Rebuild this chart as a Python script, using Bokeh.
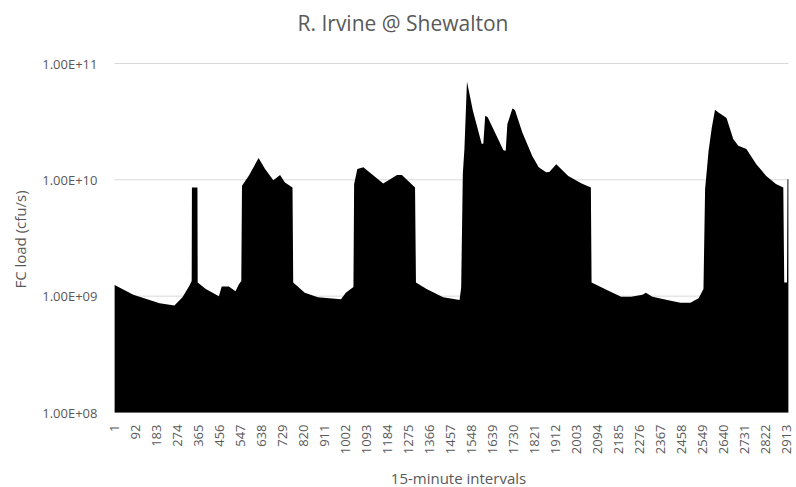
import math
from bokeh.plotting import figure
from bokeh.models import Range1d, Label, LabelSet, ColumnDataSource
from bokeh.core.properties import value
from bokeh.embed import file_html
from bokeh.resources import INLINE

# 15-minute interval index and FC load (cfu/s)
interval = [1, 82, 196, 260, 295, 325, 335, 336, 360, 361, 396, 453, 465, 496,
            525, 539, 550, 553, 582, 625, 653, 689, 718, 739, 772, 775, 825, 882,
            982, 1003, 1036, 1039, 1053, 1079, 1165, 1225, 1246, 1303, 1307, 1353,
            1425, 1496, 1503, 1510, 1517, 1528, 1554, 1592, 1599, 1607, 1618, 1653,
            1686, 1696, 1703, 1725, 1736, 1768, 1811, 1839, 1871, 1885, 1915, 1967,
            2025, 2065, 2068, 2139, 2196, 2239, 2289, 2303, 2332, 2396, 2453, 2496,
            2532, 2553, 2560, 2575, 2589, 2603, 2618, 2639, 2653, 2682, 2704, 2739,
            2782, 2825, 2867, 2899, 2903, 2915, 2917, 2921]
load = [1.25e9, 1.03e9, 8.7e8, 8.3e8, 9.8e8, 1.23e9, 1.35e9, 8.6e9, 8.6e9, 1.31e9,
        1.15e9, 1.0e9, 1.21e9, 1.21e9, 1.1e9, 1.26e9, 1.35e9, 8.9e9, 1.08e10,
        1.54e10, 1.24e10, 9.9e9, 1.1e10, 9.5e9, 8.6e9, 1.31e9, 1.07e9, 9.8e8,
        9.4e8, 1.07e9, 1.2e9, 9.2e9, 1.24e10, 1.28e10, 9.3e9, 1.1e10, 1.1e10,
        8.6e9, 1.31e9, 1.15e9, 9.8e8, 9.25e8, 1.19e9, 1.12e10, 1.84e10, 7.0e10,
        3.9e10, 2.03e10, 2.05e10, 3.55e10, 3.45e10, 2.47e10, 1.8e10, 1.78e10,
        3.0e10, 4.1e10, 3.98e10, 2.55e10, 1.6e10, 1.28e10, 1.16e10, 1.17e10,
        1.36e10, 1.08e10, 9.3e9, 8.6e9, 1.31e9, 1.12e9, 9.9e8, 9.9e8, 1.03e9,
        1.07e9, 9.9e8, 9.25e8, 8.8e8, 8.8e8, 9.6e8, 1.15e9, 8.3e9, 1.77e10,
        2.8e10, 4.0e10, 3.8e10, 3.55e10, 3.4e10, 2.24e10, 1.96e10, 1.84e10,
        1.36e10, 1.08e10, 9.2e9, 8.6e9, 1.31e9, 1.31e9, 1.01e10, 1.01e10]
baseline = 1e8

x_ticks = [1, 92, 183, 274, 365, 456, 547, 638, 729, 820, 911, 1002, 1093, 1184,
           1275, 1366, 1457, 1548, 1639, 1730, 1821, 1912, 2003, 2094, 2185, 2276,
           2367, 2458, 2549, 2640, 2731, 2822, 2913]
x_tick_labels = [str(t) for t in x_ticks]
y_ticks = [1e8, 1e9, 1e10, 1e11]
y_tick_labels = ["1.00E+08", "1.00E+09", "1.00E+10", "1.00E+11"]

TITLE = "R. Irvine @ Shewalton"
X_TITLE = "15-minute intervals"
Y_TITLE = "FC load (cfu/s)"

FONT = "Open Sans"
GREY = "#595959"
GRID = "#d9d9d9"

# ---- layout in canvas pixels ----
W, H = 796, 487
PLOT_L, PLOT_R = 114, 788          # plot area left / right
PLOT_T, PLOT_B = 63, 412           # pixel rows of the top (1e11) and bottom (1e8)
XA, XB = 0.5, interval[-1] + 0.5   # category extent of the plot area
YA, YB = y_ticks[0], y_ticks[-1]

sx = (PLOT_R - PLOT_L) / (XB - XA)                                  # px per interval
sy = (PLOT_B - PLOT_T) / (math.log10(YB) - math.log10(YA))          # px per decade


def px_to_x(px):
    return XA + (px - PLOT_L) / sx


def py_to_y(py):
    return 10 ** (math.log10(YB) - (py - PLOT_T) / sy)


p = figure(width=W, height=H, y_axis_type="log",
           x_range=Range1d(px_to_x(0), px_to_x(W)),
           y_range=Range1d(py_to_y(H), py_to_y(0)),
           x_axis_location=None, y_axis_location=None,
           output_backend="svg", toolbar_location=None,
           min_border=0, min_border_left=0, min_border_right=0,
           min_border_top=0, min_border_bottom=0)
p.outline_line_color = None
p.background_fill_color = "white"
p.border_fill_color = "white"
p.grid.visible = False

# horizontal gridlines at the decade ticks across the plot area
p.segment(x0=[XA] * len(y_ticks), x1=[XB] * len(y_ticks), y0=y_ticks, y1=y_ticks,
          line_color=GRID, line_width=1)

# the load series
p.varea(x=interval, y1=baseline, y2=load, fill_color="black", fill_alpha=1.0)

# y tick labels
ysrc = ColumnDataSource(dict(y=y_ticks, text=y_tick_labels))
p.add_layout(LabelSet(x=px_to_x(97), y="y", text="text", source=ysrc,
                      text_align="right", text_baseline="middle",
                      text_font=value(FONT), text_font_size=value("13px"),
                      text_color=value(GREY)))

# x tick labels (rotated, reading upwards, ending near the axis)
xsrc = ColumnDataSource(dict(x=x_ticks, text=x_tick_labels))
p.add_layout(LabelSet(x="x", y=py_to_y(424), text="text", source=xsrc,
                      angle=math.pi / 2, text_align="right", text_baseline="middle",
                      text_font=value(FONT), text_font_size=value("13px"),
                      text_color=value(GREY)))

# axis titles and chart title
p.add_layout(Label(x=px_to_x(19), y=py_to_y(239), text=Y_TITLE, angle=math.pi / 2,
                   text_align="center", text_baseline="middle",
                   text_font=FONT, text_font_size="15px", text_color=GREY))
p.add_layout(Label(x=px_to_x(458), y=py_to_y(477), text=X_TITLE,
                   text_align="center", text_baseline="middle",
                   text_font=FONT, text_font_size="15px", text_color=GREY))
p.add_layout(Label(x=px_to_x(402.5), y=py_to_y(22), text=TITLE,
                   text_align="center", text_baseline="middle",
                   text_font=FONT, text_font_size="21px", text_color=GREY))

open("out.html", "w").write(file_html(p, INLINE))
